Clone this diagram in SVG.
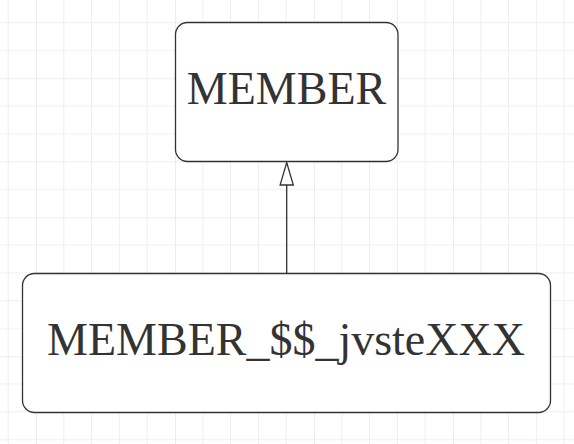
<svg xmlns="http://www.w3.org/2000/svg" width="574" height="444" viewBox="0 0 574 444">
  <defs>
    <pattern id="grid" patternUnits="userSpaceOnUse" x="36" y="78.3" width="139" height="139">
      <path d="M27.8 0V139M55.6 0V139M83.4 0V139M111.2 0V139M0 27.8H139M0 55.6H139M0 83.4H139M0 111.2H139" stroke="#efefef" stroke-width="1" fill="none"/>
      <path d="M0 0V139M0 0H139" stroke="#dcdcdc" stroke-width="1" fill="none"/>
    </pattern>
  </defs>
  <style>
    .box { fill: #ffffff; stroke: #333333; stroke-width: 1.3; }
    .label { font-family: "Liberation Serif", "Times New Roman", serif; fill: #333333; text-anchor: middle; font-size: 46px; }
    .edge { stroke: #333333; stroke-width: 1.3; fill: none; }
    .head { fill: #ffffff; stroke: #333333; stroke-width: 1.3; }
  </style>
  <rect width="574" height="444" fill="#ffffff"/>
  <rect width="574" height="444" fill="url(#grid)"/>
  <g id="connectors">
    <line class="edge" x1="286.7" y1="273.5" x2="286.7" y2="185"/>
    <path class="head" d="M286.7 162.5 L293.3 185 L280.1 185 Z"/>
  </g>
  <g id="node-member">
    <rect class="box" x="175.5" y="22.5" width="222.5" height="139" rx="12" ry="12"/>
    <text class="label" x="286.5" y="104.3">MEMBER</text>
  </g>
  <g id="node-proxy">
    <rect class="box" x="22.5" y="273.5" width="528" height="139" rx="12" ry="12"/>
    <text class="label" x="286" y="355">MEMBER_$$_jvsteXXX</text>
  </g>
</svg>
